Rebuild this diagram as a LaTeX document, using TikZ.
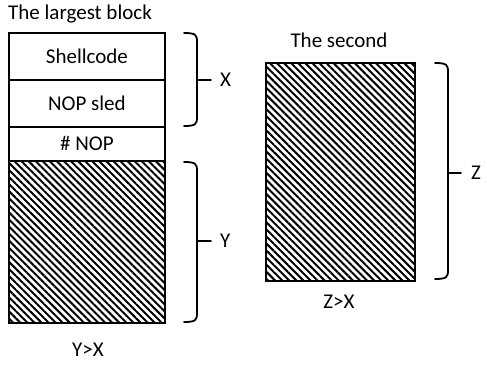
\documentclass[tikz,border=0pt]{standalone}
\usepackage{fontspec}
\setmainfont{Carlito}
\usetikzlibrary{patterns.meta}
\begin{document}
\begin{tikzpicture}[x=1pt,y=-1pt,
  lbl/.style={font=\fontsize{21}{25}\selectfont, inner sep=0pt},
  cell/.style={draw, line width=1.8pt, anchor=north west, inner sep=0pt, font=\fontsize{21}{25}\selectfont},
  hatch/.style={cell, pattern={Lines[angle=-45,distance=5pt,line width=2pt]}},
  bracepath/.style={line width=1.8pt, line cap=round}]
\useasboundingbox (0,0) rectangle (487,366);
% left block
\node[lbl, anchor=west] (t1) at (8,14) {The largest block};
\node[cell, minimum width=156pt, minimum height=47pt] (shell) at (8,32) {Shellcode};
\node[cell, minimum width=156pt, minimum height=47pt] (sled) at (8,79) {NOP sled};
\node[cell, minimum width=156pt, minimum height=34pt] (nop) at (8,126) {\# NOP};
\node[hatch, minimum width=156pt, minimum height=162pt] (y) at (8,160) {};
\node[lbl] (yx) at (88,350) {Y>X};
% right block
\node[lbl] (t2) at (339,40) {The second};
\node[hatch, minimum width=149pt, minimum height=218pt] (z) at (265,62) {};
\node[lbl] (zx) at (339,302) {Z>X};
% braces
\coordinate (xa) at (184,33); \coordinate (xb) at (184,126);
\coordinate (xt) at (211,80);
\draw[bracepath] (xa) .. controls (196,33) and (197,35) .. (197,42) -- (197,117) .. controls (197,124) and (196,126) .. (xb);
\draw[bracepath] (197,80) -- (xt);
\node[lbl, anchor=west] (xl) at (220,80) {X};
\coordinate (ya) at (184,162); \coordinate (yb) at (184,322);
\coordinate (yt) at (211,241);
\draw[bracepath] (ya) .. controls (196,162) and (197,164) .. (197,171) -- (197,313) .. controls (197,320) and (196,322) .. (yb);
\draw[bracepath] (197,241) -- (yt);
\node[lbl, anchor=west] (yl) at (220,241) {Y};
\coordinate (za) at (435,63); \coordinate (zb) at (435,279);
\coordinate (zt) at (461,173);
\draw[bracepath] (za) .. controls (447,63) and (448,65) .. (448,72) -- (448,270) .. controls (448,277) and (447,279) .. (zb);
\draw[bracepath] (448,173) -- (zt);
\node[lbl, anchor=west] (zl) at (471,173) {Z};
\end{tikzpicture}
\end{document}
